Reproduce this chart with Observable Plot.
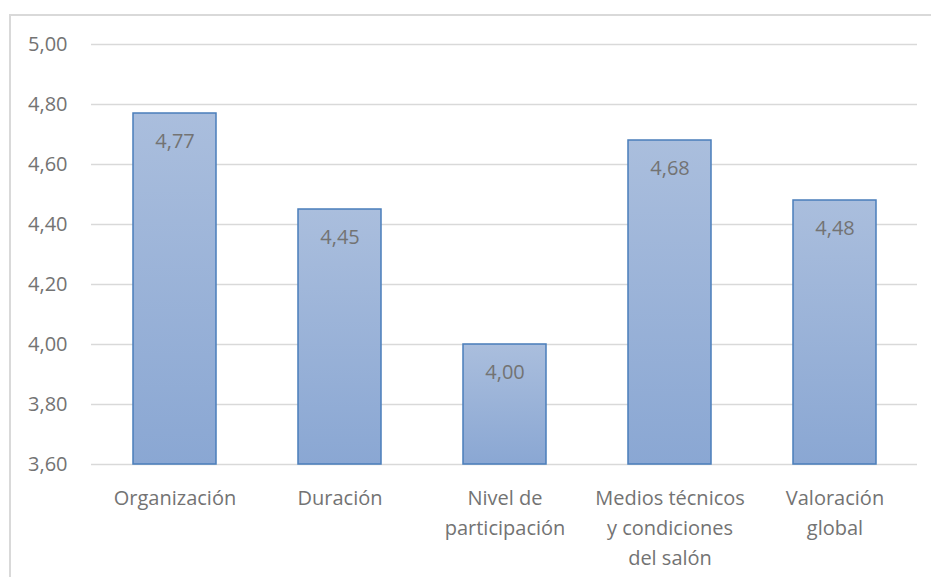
<!DOCTYPE html>
<html>
<head>
<meta charset="utf-8">
<script src="https://cdn.jsdelivr.net/npm/d3@7"></script>
<script src="https://cdn.jsdelivr.net/npm/@observablehq/plot@0.6"></script>
<style>
  html, body { margin: 0; padding: 0; background: #fff; overflow: hidden; }
  #wrap { position: relative; width: 931px; height: 577px; }
  #frame { position: absolute; left: 9px; top: 14px; width: 1000px; height: 1000px; border: 2px solid #d9d9d9; box-sizing: border-box; }
  #chart { position: absolute; left: 0; top: 0; }
</style>
</head>
<body>
<div id="wrap"><div id="frame"></div><div id="chart"></div></div>
<script>
const categories = ["Organización", "Duración", "Nivel de participación", "Medios técnicos y condiciones del salón", "Valoración global"];
const categoryLabels = ["Organización", "Duración", "Nivel de\nparticipación", "Medios técnicos\ny condiciones\ndel salón", "Valoración\nglobal"];
const values = [4.77, 4.45, 4.00, 4.68, 4.48];
const yTicks = [3.6, 3.8, 4.0, 4.2, 4.4, 4.6, 4.8, 5.0];
const yMin = 3.6, yMax = 5.0;

const data = categories.map((c, i) => ({category: c, value: values[i]}));
const fmt = v => d3.format(".2f")(v).replace(".", ",");
const labelOf = new Map(categories.map((c, i) => [c, categoryLabels[i]]));

const defs = () => {
  const g = d3.create("svg:defs");
  const lg = g.append("linearGradient").attr("id", "barGrad").attr("x1", 0).attr("y1", 0).attr("x2", 0).attr("y2", 1);
  lg.append("stop").attr("offset", "0%").attr("stop-color", "#aabedd");
  lg.append("stop").attr("offset", "100%").attr("stop-color", "#8aa7d3");
  return g.node();
};

const chart = Plot.plot({
  width: 931,
  height: 577,
  marginLeft: 91,
  marginRight: 14,
  marginTop: 44,
  marginBottom: 113,
  style: {fontFamily: "'Open Sans', sans-serif", fontSize: "20px", color: "#737373", background: "transparent"},
  x: {domain: categories, paddingInner: 0.5, paddingOuter: 0.25, label: null},
  y: {domain: [yMin, yMax], label: null},
  marks: [
    defs,
    Plot.ruleY(yTicks, {stroke: "#d9d9d9", strokeWidth: 1.5}),
    Plot.barY(data, {x: "category", y1: yMin, y2: "value", fill: "url(#barGrad)", stroke: "#4a7ebb", strokeWidth: 1.5}),
    Plot.text(data, {x: "category", y: "value", text: d => fmt(d.value), dy: 28, fill: "#737373", fontSize: 20}),
    Plot.axisY({ticks: yTicks, tickSize: 0, tickPadding: 24, tickFormat: fmt, fontSize: 20, fill: "#737373"}),
    Plot.axisX({tickSize: 0, tickPadding: 19, tickFormat: d => labelOf.get(d), lineHeight: 1.5, fontSize: 20, fill: "#737373"})
  ]
});
document.getElementById("chart").appendChild(chart);
</script>
</body>
</html>
